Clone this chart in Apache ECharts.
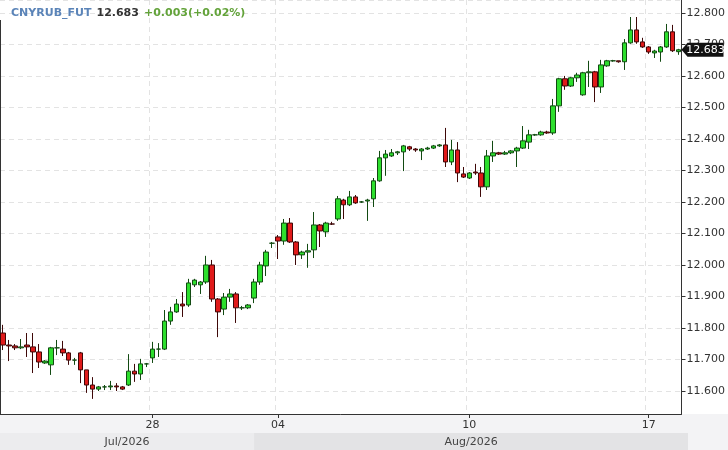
<!DOCTYPE html>
<html>
<head>
<meta charset="utf-8">
<script src="https://cdn.jsdelivr.net/npm/echarts@6/dist/echarts.min.js"></script>
<style>
html,body{margin:0;padding:0;background:#fff;}
#main{width:728px;height:450px;}
</style>
</head>
<body>
<div id="main"></div>
<script>
// 行情数据 (CNYRUB_FUT)
var symbol = 'CNYRUB_FUT';
var lastPrice = 12.683;
var changeText = '+0.003(+0.02%)';

var opens = [
  11.784,11.746,11.743,11.737,11.746,11.740,11.724,11.689,11.683,11.737,
  11.733,11.721,11.698,11.721,11.667,11.619,11.606,11.613,11.613,11.616,
  11.613,11.619,11.663,11.654,11.686,11.705,11.733,11.733,11.822,11.851,
  11.876,11.873,11.937,11.937,11.946,12.000,11.892,11.860,11.898,11.908,
  11.864,11.864,11.895,11.946,11.997,12.069,12.089,12.076,12.133,12.073,
  12.032,12.041,12.048,12.127,12.105,12.130,12.146,12.206,12.191,12.216,
  12.200,12.203,12.210,12.267,12.340,12.346,12.356,12.359,12.375,12.368,
  12.362,12.368,12.371,12.378,12.381,12.327,12.365,12.289,12.276,12.295,
  12.292,12.248,12.346,12.356,12.352,12.356,12.362,12.371,12.390,12.413,
  12.413,12.422,12.419,12.505,12.591,12.568,12.594,12.540,12.610,12.613,
  12.565,12.632,12.648,12.648,12.645,12.705,12.746,12.708,12.692,12.673,
  12.676,12.692,12.740,12.677
];
var closes = [
  11.746,11.743,11.737,11.740,11.740,11.724,11.692,11.695,11.737,11.737,
  11.721,11.698,11.698,11.667,11.619,11.606,11.613,11.613,11.616,11.613,
  11.606,11.663,11.654,11.686,11.686,11.733,11.733,11.822,11.851,11.876,
  11.870,11.943,11.952,11.946,12.000,11.892,11.851,11.898,11.908,11.864,
  11.864,11.873,11.946,12.000,12.041,12.069,12.076,12.133,12.073,12.032,
  12.041,12.045,12.127,12.108,12.133,12.130,12.210,12.191,12.216,12.197,
  12.200,12.206,12.267,12.340,12.352,12.356,12.359,12.378,12.368,12.365,
  12.368,12.371,12.378,12.381,12.327,12.365,12.292,12.279,12.292,12.292,
  12.248,12.346,12.356,12.352,12.356,12.362,12.371,12.394,12.413,12.413,
  12.422,12.419,12.505,12.591,12.568,12.594,12.603,12.610,12.613,12.565,
  12.635,12.648,12.648,12.645,12.705,12.746,12.708,12.692,12.676,12.679,
  12.692,12.740,12.680,12.683
];
var lows = [
  11.730,11.695,11.730,11.733,11.708,11.657,11.673,11.686,11.651,11.714,
  11.711,11.683,11.683,11.625,11.594,11.575,11.600,11.603,11.603,11.600,
  11.603,11.616,11.629,11.635,11.676,11.689,11.708,11.730,11.810,11.848,
  11.835,11.867,11.930,11.908,11.940,11.883,11.771,11.841,11.883,11.816,
  11.857,11.860,11.879,11.937,11.965,12.054,12.019,12.064,12.070,12.000,
  12.019,11.991,12.022,12.057,12.089,12.127,12.140,12.146,12.187,12.194,
  12.197,12.140,12.184,12.264,12.283,12.343,12.349,12.298,12.362,12.359,
  12.333,12.365,12.368,12.375,12.311,12.317,12.263,12.276,12.273,12.286,
  12.216,12.238,12.327,12.349,12.349,12.352,12.311,12.368,12.368,12.410,
  12.410,12.416,12.413,12.486,12.556,12.565,12.581,12.537,12.565,12.517,
  12.546,12.629,12.645,12.642,12.619,12.702,12.702,12.689,12.670,12.657,
  12.645,12.689,12.676,12.667
];
var highs = [
  11.810,11.762,11.749,11.765,11.784,11.784,11.749,11.698,11.740,11.762,
  11.759,11.724,11.705,11.724,11.667,11.644,11.616,11.619,11.632,11.625,
  11.616,11.717,11.686,11.702,11.689,11.756,11.752,11.857,11.867,11.892,
  11.914,11.956,11.956,11.949,12.029,12.016,11.895,11.911,11.924,11.914,
  11.870,11.876,11.956,12.010,12.048,12.073,12.095,12.146,12.149,12.076,
  12.045,12.067,12.168,12.130,12.137,12.137,12.219,12.210,12.235,12.222,
  12.203,12.210,12.276,12.362,12.365,12.368,12.362,12.381,12.378,12.371,
  12.371,12.375,12.381,12.384,12.435,12.397,12.390,12.311,12.295,12.321,
  12.311,12.365,12.394,12.359,12.362,12.365,12.375,12.441,12.429,12.416,
  12.426,12.426,12.527,12.594,12.600,12.597,12.610,12.613,12.648,12.616,
  12.651,12.651,12.651,12.648,12.717,12.787,12.787,12.721,12.695,12.683,
  12.695,12.765,12.762,12.686
];

// 日期刻度
var tickIndex = [25, 46, 78, 108];
var tickText = ['28', '04', '10', '17'];
// 月份分段
var monthStart = [0, 42];
var monthText = ['Jul/2026', 'Aug/2026'];

var yMin = 11.527, yMax = 12.841;

var FONT = 'DejaVu Sans';
var cats = [], candles = [];
for (var i = 0; i < opens.length; i++) {
  cats.push(i);
  candles.push([opens[i], closes[i], lows[i], highs[i]]);
}
function isTick(idx) { return tickIndex.indexOf(Number(idx)) >= 0; }

var chart = echarts.init(document.getElementById('main'), null, {renderer: 'canvas'});
chart.setOption({
  animation: false,
  backgroundColor: '#fff',
  title: {
    left: 6, top: -1,
    text: '{a|' + symbol + '} {b|' + lastPrice.toFixed(3) + '} {c|' + changeText + '}',
    textStyle: {
      rich: {
        a: {color: '#5b84b8', fontWeight: 'bold', fontSize: 11, fontFamily: FONT},
        b: {color: '#333', fontWeight: 'bold', fontSize: 11, fontFamily: FONT},
        c: {color: '#63a33a', fontWeight: 'bold', fontSize: 11, fontFamily: FONT}
      }
    }
  },
  grid: {left: 0, right: 40, top: 0, bottom: 36, containLabel: false},
  xAxis: {
    type: 'category',
    data: cats,
    boundaryGap: true,
    axisLine: {show: true, lineStyle: {color: '#333', width: 1}},
    axisTick: {show: true, alignWithLabel: true, length: 4, interval: function (idx) { return isTick(idx); }, lineStyle: {color: '#333'}},
    axisLabel: {
      interval: function (idx) { return isTick(idx); },
      formatter: function (v) { var k = tickIndex.indexOf(Number(v)); return k >= 0 ? tickText[k] : ''; },
      color: '#333', fontSize: 11, fontFamily: FONT, margin: 6
    },
    splitLine: {show: true, interval: function (idx) { return isTick(idx); }, lineStyle: {color: '#e3e3e3', type: [5, 4]}}
  },
  yAxis: {
    type: 'value',
    position: 'right',
    scale: true,
    min: yMin, max: yMax,
    splitNumber: 10,
    axisLine: {show: true, lineStyle: {color: '#333'}},
    axisTick: {show: true, length: 4, lineStyle: {color: '#333'}},
    axisLabel: {
      showMinLabel: false, showMaxLabel: false,
      formatter: function (v) { return v.toFixed(3); },
      color: '#333', fontSize: 11, fontFamily: FONT, margin: 5
    },
    splitLine: {show: true, lineStyle: {color: '#e3e3e3', type: [5, 4]}}
  },
  series: [{
    type: 'candlestick',
    data: candles,
    barWidth: 5,
    itemStyle: {
      color: '#2ddf2d', color0: '#e01a1a',
      borderColor: '#124a12', borderColor0: '#3e0808',
      borderWidth: 1
    },
    markPoint: {
      silent: true,
      symbol: 'path://M0,7L6,0L42,0L42,14L6,14Z',
      symbolSize: [42, 14],
      symbolKeepAspect: false,
      itemStyle: {color: '#111'},
      label: {
        show: true, position: 'inside', offset: [3, 0],
        color: '#fff', fontSize: 11, fontFamily: FONT,
        formatter: function () { return lastPrice.toFixed(3); }
      },
      data: [{coord: [opens.length - 1, lastPrice], symbolOffset: [24, 0]}]
    }
  }]
});

// 底部月份色块
var gridRight = 688;
var bands = [];
bands.push({type: 'rect', shape: {x: 0, y: 414, width: 728, height: 36}, style: {fill: '#f3f3f5'}, z: -1});
for (var m = 0; m < monthStart.length; m++) {
  var x0 = m === 0 ? 0 : chart.convertToPixel({xAxisIndex: 0}, monthStart[m]);
  var x1 = m + 1 < monthStart.length ? chart.convertToPixel({xAxisIndex: 0}, monthStart[m + 1]) : gridRight;
  bands.push({type: 'rect', shape: {x: x0, y: 433, width: x1 - x0, height: 17}, style: {fill: m % 2 === 0 ? '#ececee' : '#e3e3e5'}, z: -1});
  bands.push({type: 'text', x: (x0 + x1) / 2, y: 442, style: {text: monthText[m], fill: '#444', font: '11px "DejaVu Sans"', textAlign: 'center', textVerticalAlign: 'middle'}});
}
bands.push({type: 'line', shape: {x1: 0.5, y1: 20, x2: 0.5, y2: 414}, style: {stroke: '#333', lineWidth: 1}});
chart.setOption({graphic: bands});
</script>
</body>
</html>
